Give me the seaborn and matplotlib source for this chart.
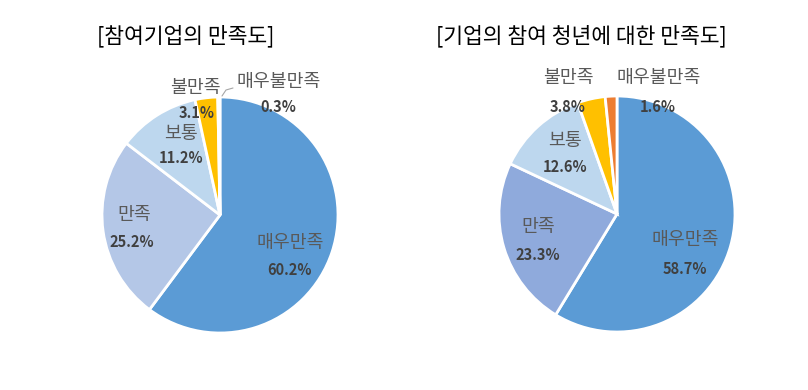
"""
Satisfaction pie charts (participating companies / youth)
"""

import matplotlib
matplotlib.use("Agg")
import matplotlib.pyplot as plt
import seaborn as sns

# data
categories = ["매우만족", "만족", "보통", "불만족", "매우불만족"]
company_values = [60.2, 25.2, 11.2, 3.1, 0.3]
youth_values = [58.7, 23.3, 12.6, 3.8, 1.6]
titles = ["[참여기업의 만족도]", "[기업의 참여 청년에 대한 만족도]"]

left_colors = ["#5B9BD5", "#B4C7E7", "#BDD7EE", "#FFC000", "#ED7D31"]
right_colors = ["#5B9BD5", "#8FAADC", "#BDD7EE", "#FFC000", "#ED7D31"]

sns.set_theme(style="white")
plt.rcParams["font.family"] = ["Noto Sans CJK KR", "DejaVu Sans"]

W, H = 808, 390
fig = plt.figure(figsize=(W / 100, H / 100), dpi=100)
ax = fig.add_axes([0, 0, 1, 1])

# layout in pixel space (y measured from top)
pies = [
    dict(values=company_values, colors=left_colors, center=(220, 215), title_xy=(186, 36),
         label_xy=[(290, 243), (134, 215), (181, 134), (195, 88), (279, 82)],
         pct_xy=[(290, 270), (132, 242), (181, 158), (197, 113), (278, 107)]),
    dict(values=youth_values, colors=right_colors, center=(617, 214), title_xy=(581, 36),
         label_xy=[(685, 240), (538, 227), (565, 141), (568, 78), (659, 78)],
         pct_xy=[(685, 269), (538, 255), (565, 167), (568, 107), (658, 107)]),
]
radius = 118

for i, p in enumerate(pies):
    cx, cy = p["center"]
    ax.pie(p["values"], colors=p["colors"], startangle=90, counterclock=False,
           center=(cx, H - cy), radius=radius,
           wedgeprops=dict(edgecolor="white", linewidth=2))
    tx, ty = p["title_xy"]
    ax.text(tx, H - ty, titles[i], ha="center", va="center", fontsize=15.5, color="black")
    for cat, val, (lx, ly), (px, py) in zip(categories, p["values"], p["label_xy"], p["pct_xy"]):
        ax.text(lx, H - ly, cat, ha="center", va="center", fontsize=13.2, color="#595959")
        ax.text(px, H - py, f"{val:.1f}%", ha="center", va="center", fontsize=10.5,
                fontweight="bold", color="#404040")

# leader line for the tiny slice on the left chart
ax.plot([222, 226, 233], [H - 96, H - 90, H - 88], color="#A6A6A6", linewidth=0.8)

ax.set_xlim(0, W)
ax.set_ylim(0, H)
ax.set_aspect("equal")
ax.axis("off")

fig.savefig("out.png", dpi=100)
